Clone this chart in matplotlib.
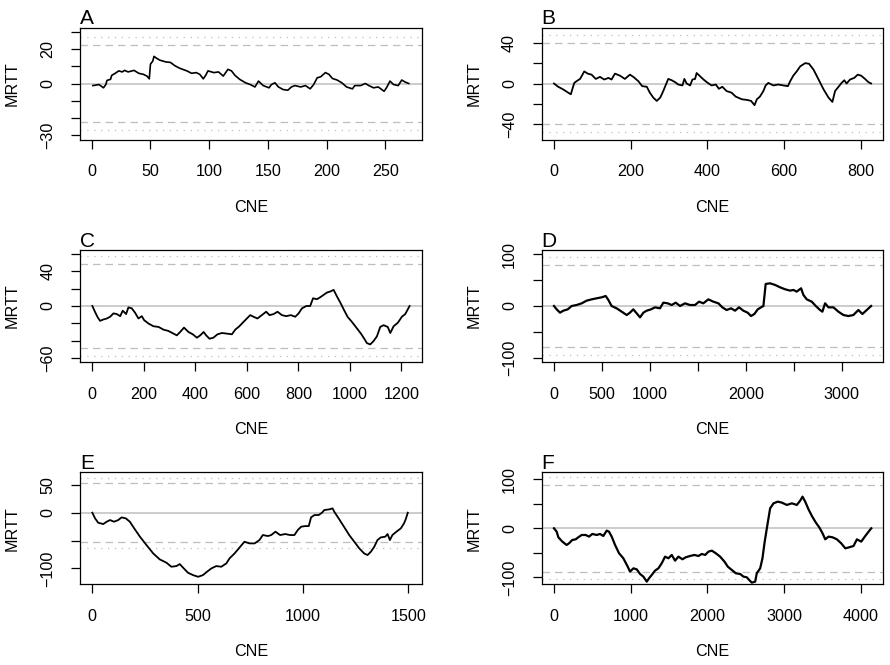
import matplotlib
matplotlib.use('Agg')
import matplotlib.pyplot as plt

plt.rcParams['font.family'] = ['Liberation Sans', 'DejaVu Sans']

M = '\u2212'

# ---- panel A ----
a_x = [1, 3, 6, 7, 10, 12, 13, 16, 17, 20, 23, 26, 28, 31, 36, 40, 44, 47, 49, 50,
       52, 53, 55, 58, 63, 67, 71, 75, 81, 85, 89, 92, 95, 97, 99, 104, 108, 112, 116, 119,
       122, 126, 131, 135, 139, 142, 146, 151, 153, 156, 159, 163, 167, 170, 173, 178, 182, 186, 189, 192,
       195, 199, 202, 205, 209, 213, 217, 222, 224, 229, 233, 236, 240, 244, 249, 251, 254, 257, 261, 264,
       267, 270]
a_y = [-1.2, -1, -0.6, -1, -2.5, -0.6, 1.8, 2.4, 4.7, 5.9, 7.3, 6.7, 7.6, 6.7, 7.6, 5.9, 5.3, 4.3, 2.7, 11.2,
       13, 15.7, 14.7, 13.5, 12.5, 12.2, 10.2, 8.8, 7.3, 5.9, 6.3, 5.3, 2.7, 4.7, 7.3, 6.3, 6.7, 4.3, 8.2, 7.3,
       4.7, 2.4, 0.4, -0.6, -2, 1.4, -1.2, -2.5, -0.6, 0.4, -2, -3.5, -3.9, -2, -1.2, -2, -1.2, -3.1, -0.6, 3.3,
       3.9, 6.3, 5.3, 2.9, 2, 0.4, -2, -3.1, -1.2, -1.2, 0, -1.2, -2.5, -2, -4.5, -2.5, 1.4, -0.6, -1.2, 2,
       0.8, 0]

# ---- panel B ----
b_x = [0, 11, 24, 37, 44, 49, 53, 59, 68, 72, 79, 88, 98, 109, 120, 131, 142, 150, 159, 172,
       185, 198, 207, 220, 230, 242, 250, 259, 268, 277, 285, 291, 298, 307, 316, 324, 335, 340, 346, 355,
       361, 368, 372, 381, 390, 401, 411, 422, 430, 439, 450, 463, 474, 490, 503, 514, 523, 529, 537, 546,
       552, 559, 572, 585, 598, 610, 616, 624, 633, 642, 655, 665, 677, 690, 703, 716, 726, 733, 742, 750,
       757, 763, 772, 783, 792, 801, 811, 820, 827]
b_y = [0, -3.2, -5.8, -9, -10.6, -4.2, 0.6, 2.3, 4.5, 7.1, 11.9, 9.7, 8.7, 4.5, 6.5, 3.9, 5.5, 3.9, 9.7, 7.7,
       4.5, 8.7, 6.5, 2.3, -2.6, -3.2, -9, -13.9, -17.1, -13.9, -7.4, -1.9, 4.5, 3.2, 1.3, -1, -1.9, 4.5, 0, -1.9,
       3.9, 4.5, 10.3, 7.1, 3.9, 0.6, -1.9, -1, -5.2, -3.2, -7.4, -9, -12.9, -15.5, -16.1, -17.1, -21.3, -15.5, -12.9, -7.4,
       -1.9, 0.6, -1.9, -1, -1.9, -2.6, 2.3, 7.7, 11.9, 16.8, 20, 19.4, 13.5, 3.9, -5.8, -13.9, -18.1, -7.4, -3.2, 0.6,
       3.2, 0, 3.9, 5.5, 8.7, 7.7, 4.5, 1.3, 0]

# ---- panel C ----
c_x = [0, 10, 21, 30, 43, 56, 69, 82, 95, 108, 118, 131, 140, 153, 166, 179, 192, 201, 218, 237,
       257, 276, 295, 315, 328, 341, 356, 373, 390, 406, 419, 432, 442, 455, 470, 486, 503, 522, 542, 555,
       571, 587, 600, 613, 626, 641, 658, 675, 688, 704, 719, 736, 753, 771, 788, 801, 814, 831, 846, 857,
       872, 885, 898, 911, 924, 937, 950, 963, 976, 991, 1008, 1028, 1043, 1056, 1066, 1079, 1092, 1105, 1118, 1131,
       1147, 1157, 1170, 1186, 1202, 1215, 1232]
c_y = [0, -6.6, -13.2, -17.1, -15.5, -14.4, -12.4, -8.5, -9.3, -11.7, -5.4, -9.3, -1.6, -2.7, -7.8, -14.4, -11.7, -16.3, -20.2, -23.3,
       -24.1, -27.2, -28.7, -31.8, -33.8, -29.9, -24.9, -29.9, -32.6, -36.5, -33.8, -29.9, -33.8, -37.7, -36.5, -32.6, -31.1, -31.8, -32.6, -27.2,
       -23.3, -18.3, -14.4, -10.5, -12.4, -14.4, -10.5, -6.6, -10.5, -9.3, -6.6, -10.5, -11.7, -10.5, -12.4, -8.5, -2.7, 0, 0, 8.9,
       7.8, 10.1, 12.8, 15.5, 16.7, 18.6, 10.9, 3.9, -3.9, -12.4, -18.3, -26, -31.8, -37.7, -42.7, -44.3, -40.4, -35, -24.1, -22.1,
       -24.1, -31.1, -23.3, -19.4, -12.4, -9.3, 0]

# ---- panel D ----
d_x = [0, 28, 63, 97, 143, 184, 236, 289, 341, 393, 445, 497, 539, 567, 601, 653, 706, 758, 792, 827,
       862, 897, 932, 966, 1011, 1053, 1105, 1140, 1185, 1227, 1269, 1314, 1366, 1418, 1470, 1512, 1557, 1609, 1661, 1714,
       1755, 1800, 1846, 1887, 1929, 1974, 2019, 2054, 2089, 2124, 2158, 2183, 2207, 2252, 2305, 2357, 2409, 2461, 2496, 2530,
       2576, 2600, 2635, 2687, 2729, 2774, 2798, 2826, 2861, 2913, 2965, 3017, 3069, 3121, 3173, 3215, 3260, 3306]
d_y = [0, -6.5, -12.9, -9.1, -6.5, 0, 1.9, 5.2, 10.4, 12.9, 14.9, 16.8, 19.4, 11.7, 0, -4.5, -11, -17.5, -12.9, -6.5,
       -14.2, -22, -12.9, -9.1, -6.5, -2.6, -4.5, 6.5, 5.2, 1.9, 6.5, 0, 5.2, 1.9, 1.9, 8.4, 5.2, 12.9, 8.4, 5.2,
       -2.6, -7.8, -4.5, -9.1, -2.6, -9.1, -12.9, -19.4, -15.5, -6.5, -2.6, 0, 42.7, 44, 40.8, 36.2, 32.4, 29.8, 31.1, 27.8,
       34.3, 21.4, 12.9, 8.4, 0, -7.8, -11, 5.2, -2.6, -2.6, -11, -17.5, -19.4, -17.5, -7.8, -15.5, -7.8, 0]

# ---- panel E ----
e_x = [0, 13, 28, 52, 68, 84, 103, 123, 139, 159, 178, 202, 226, 257, 289, 320, 352, 375, 399, 415,
       434, 454, 478, 502, 525, 544, 565, 588, 612, 636, 651, 675, 699, 722, 746, 770, 793, 809, 833, 849,
       869, 891, 916, 938, 959, 975, 991, 1011, 1027, 1038, 1054, 1074, 1090, 1101, 1125, 1140, 1148, 1172, 1196, 1219,
       1243, 1267, 1290, 1306, 1322, 1338, 1353, 1369, 1390, 1401, 1412, 1424, 1443, 1464, 1479, 1487, 1497]
e_y = [0, -10.2, -18, -20.4, -16.2, -13.2, -16.2, -13.2, -8.4, -10.2, -16.2, -29.9, -43.1, -58.1, -73.1, -83.8, -89.8, -97, -95.8, -92.2,
       -100, -107.8, -112, -115, -112, -106, -100, -95.8, -97, -91, -82, -73.1, -62.3, -52.1, -55.1, -55.1, -49.1, -40.1, -41.9, -40.1,
       -34.1, -40.1, -38.3, -40.1, -40.1, -31.1, -25.1, -24, -24, -8.4, -4.2, -4.2, 0, 4.8, 6, 7.8, 1.8, -12, -26.3, -40.1,
       -52.1, -64.1, -73.1, -76, -70, -61.1, -49.1, -44.3, -43.1, -38.3, -49.1, -40.1, -34.1, -28.1, -19.2, -12, 0]

# ---- panel F ----
f_x = [0, 35, 57, 109, 165, 196, 239, 283, 317, 361, 413, 457, 500, 557, 600, 643, 687, 717, 752, 796,
       848, 904, 961, 991, 1035, 1078, 1122, 1165, 1209, 1239, 1274, 1317, 1361, 1404, 1448, 1491, 1535, 1578, 1622, 1674,
       1717, 1774, 1830, 1883, 1926, 1970, 2013, 2057, 2109, 2165, 2222, 2265, 2317, 2370, 2426, 2470, 2513, 2543, 2578, 2622,
       2643, 2687, 2717, 2743, 2774, 2817, 2861, 2917, 2970, 3035, 3100, 3165, 3209, 3239, 3274, 3317, 3361, 3413, 3457, 3500,
       3535, 3578, 3630, 3687, 3743, 3796, 3848, 3904, 3948, 4004, 4057, 4100, 4135]
f_y = [0, -6.8, -18.3, -27.1, -33.9, -30.5, -23.7, -22.4, -18.3, -13.6, -13.6, -16.9, -11.5, -13.6, -11.5, -15.6, -4.7, -6.8, -16.9, -33.9,
       -50.8, -61, -78, -88.1, -81.4, -83.4, -92.9, -98.3, -108.5, -101.7, -94.9, -86.1, -81.4, -71.2, -57.6, -61, -54.2, -65.8, -57.6, -63,
       -59, -56.3, -54.2, -56.3, -52.2, -54.2, -47.5, -45.4, -50.8, -57.6, -67.8, -78, -84.7, -91.5, -92.9, -98.3, -99.7, -105, -110.5, -108.5,
       -91.5, -81.4, -61, -30.5, 0, 40.7, 50.8, 54.2, 52.2, 47.5, 50.8, 47.5, 56.3, 64.4, 54.2, 38.6, 25.1, 11.5, 2, -10.2,
       -22.4, -16.9, -18.3, -22.4, -30.5, -40.7, -38.6, -35.9, -22.4, -27.1, -15.6, -6.8, 0]

# reference levels (dashed, dotted) per panel
levels = {'A': (22.4, 26.8), 'B': (39.3, 47.3), 'C': (48.4, 57.7),
          'D': (80, 94), 'E': (53, 63), 'F': (88, 104)}

# ticks and labels
a_xt = [0, 50, 100, 150, 200, 250]
a_yt = [-30, -20, -10, 0, 10, 20, 30]
a_yl = [M + '30', '', '', '0', '', '20', '']
b_xt = [0, 200, 400, 600, 800]
b_yt = [-40, -20, 0, 20, 40]
b_yl = [M + '40', '', '0', '', '40']
c_xt = [0, 200, 400, 600, 800, 1000, 1200]
c_yt = [-60, -40, -20, 0, 20, 40, 60]
c_yl = [M + '60', '', '', '0', '', '40', '']
d_xt = [0, 500, 1000, 1500, 2000, 2500, 3000]
d_xl = ['0', '500', '1000', '', '2000', '', '3000']
d_yt = [-100, -50, 0, 50, 100]
d_yl = [M + '100', '', '0', '', '100']
e_xt = [0, 500, 1000, 1500]
e_yt = [-100, -50, 0, 50]
e_yl = [M + '100', '', '0', '50']
f_xt = [0, 1000, 2000, 3000, 4000]
f_yt = [-100, -50, 0, 50, 100]
f_yl = [M + '100', '', '0', '', '100']

panels = [
    ('A', a_x, a_y, a_xt, None, a_yt, a_yl, (-10, 281), (-32.4, 32.4)),
    ('B', b_x, b_y, b_xt, None, b_yt, b_yl, (-32, 859), (-55, 55)),
    ('C', c_x, c_y, c_xt, None, c_yt, c_yl, (-48, 1279), (-64.5, 64.5)),
    ('D', d_x, d_y, d_xt, d_xl, d_yt, d_yl, (-128, 3434), (-108.5, 108.5)),
    ('E', e_x, e_y, e_xt, None, e_yt, e_yl, (-58.5, 1563), (-128.5, 72.5)),
    ('F', f_x, f_y, f_xt, None, f_yt, f_yl, (-160, 4293), (-113.9, 113.9)),
]

W, H = 890, 665
fig = plt.figure(figsize=(8.9, 6.65), dpi=100)

col_left = [80, 541.7]
row_top = [27.5, 250, 472.3]
aw, ah = 341.7, 112
grey = '#bebebe'
# the long series look heavier in the original
line_w = {'A': 1.2, 'B': 1.3, 'C': 1.3, 'D': 1.6, 'E': 1.3, 'F': 1.6}

for i, (name, x, y, xt, xl, yt, yl, xlim, ylim) in enumerate(panels):
    r, c = divmod(i, 2)
    ax = fig.add_axes([col_left[c] / W, 1 - (row_top[r] + ah) / H, aw / W, ah / H])
    dash, dot = levels[name]
    ax.axhline(0, color=grey, lw=1.1)
    for s in (1, -1):
        ax.axhline(s * dash, color=grey, lw=0.9, dashes=(6, 4))
        ax.axhline(s * dot, color=grey, lw=0.9, dashes=(1, 4.5))
    ax.plot(x, y, color='black', lw=line_w[name])
    ax.set_xlim(*xlim)
    ax.set_ylim(*ylim)
    ax.set_xticks(xt)
    ax.set_xticklabels(xl if xl else [str(v) for v in xt])
    ax.set_yticks(yt)
    ax.set_yticklabels(yl, rotation=90, va='center')
    ax.tick_params(length=6.8, width=0.9, labelsize=11.6, pad=11)
    for sp in ax.spines.values():
        sp.set_linewidth(0.9)
    ax.text(0.5, -67.5 / ah, 'CNE', transform=ax.transAxes, ha='center', va='center', fontsize=11.6)
    ax.text(-67.5 / aw, 0.5, 'MRTT', transform=ax.transAxes, ha='center', va='center',
            rotation=90, fontsize=11.6)
    ax.annotate(name, xy=(0, 1), xycoords='axes fraction', xytext=(0, 2.3),
                textcoords='offset points', ha='left', va='baseline', fontsize=15)

fig.savefig('out.png', dpi=100)
